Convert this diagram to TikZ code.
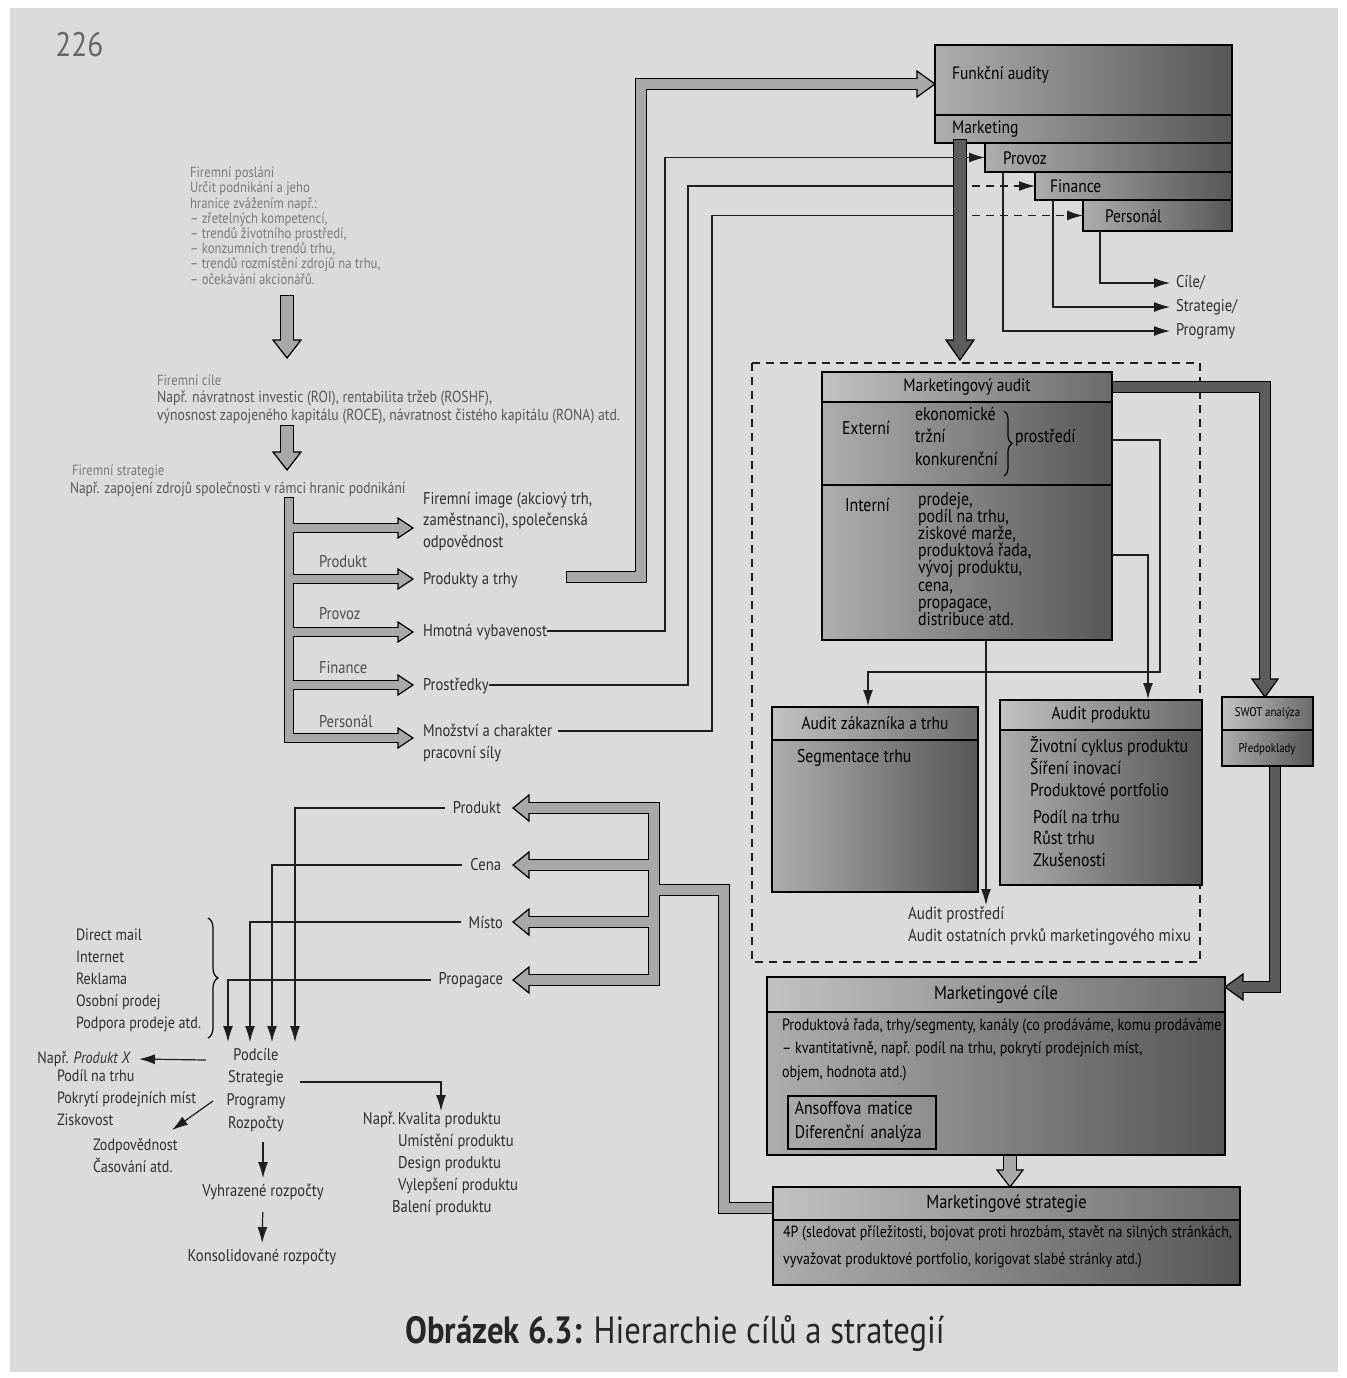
\documentclass[tikz,border=0pt]{standalone}
\usepackage{fontspec}
\setmainfont{PT Sans}[FakeStretch=0.86]
\usetikzlibrary{arrows.meta,decorations.pathreplacing,calc}
\newcommand\fsz[2]{\fontsize{#1}{#2}\selectfont}
\definecolor{pipeL}{gray}{0.66}
\definecolor{pipeD}{gray}{0.36}
% block arrow heads: tip x, tip y, fill, length, half width (px units)
\newcommand\hR[5]{\filldraw[fill=#3,draw=black,line width=0.6pt,line join=miter] (#1-#4,#2-#5) -- (#1,#2) -- (#1-#4,#2+#5) -- cycle;}
\newcommand\hL[5]{\filldraw[fill=#3,draw=black,line width=0.6pt,line join=miter] (#1+#4,#2-#5) -- (#1,#2) -- (#1+#4,#2+#5) -- cycle;}
\newcommand\hD[5]{\filldraw[fill=#3,draw=black,line width=0.6pt,line join=miter] (#1-#5,#2-#4) -- (#1,#2) -- (#1+#5,#2-#4) -- cycle;}
\begin{document}
\begin{tikzpicture}[x=0.5pt,y=-0.5pt,
  txt/.style={inner sep=0pt, outer sep=0pt, text=black!82, font=\fsz{8.5}{10.5}},
  faint/.style={inner sep=0pt, outer sep=0pt, text=black!52, font=\fsz{7.4}{7.6}},
  box/.style={draw=black, line width=0.7pt, left color=black!32, right color=black!66, inner sep=0pt, outer sep=0pt, anchor=north west},
  tbox/.style={box, left color=black!24, right color=black!58, text=black, font=\fsz{9}{10}},
  intext/.style={inner sep=0pt, outer sep=0pt, text=black, font=\fsz{9.2}{11}},
  thinln/.style={line width=0.6pt, draw=black!88},
  arr/.style={thinln, -{Latex[length=8pt,width=5pt]}},
  dashln/.style={thinln, dash pattern=on 4pt off 3pt},
  pipeO/.style={line width=#1, draw=black, line join=miter, line cap=rect},
  pipeI/.style={line width=#1, draw=pipeL, line join=miter, line cap=rect},
  pipeID/.style={line width=#1, draw=pipeD, line join=miter, line cap=rect}
]
\useasboundingbox (0,0) rectangle (1346,1378);
\fill[white] (0,0) rectangle (1346,1378);
\fill[black!14] (10,8) rectangle (1338,1372);

% ---------- page number ----------
\node[anchor=west, inner sep=0pt, text=black!60, font=\fsz{17}{20}] (pg) at (55,45) {226};

% ---------- top-left texts ----------
\node[faint, anchor=north west, align=left] (fp) at (190,167) {Firemní poslání\\Určit podnikání a jeho\\hranice zvážením např.:\\– zřetelných kompetencí,\\– trendů životního prostředí,\\– konzumních trendů trhu,\\– trendů rozmístění zdrojů na trhu,\\– očekávání akcionářů.};
\node[faint, anchor=west] (fc) at (157,380) {Firemní cíle};
\node[txt, anchor=north west, align=left, font=\fsz{8}{9}, text=black!66] (fc2) at (157,391) {Např. návratnost investic (ROI), rentabilita tržeb (ROSHF),\\výnosnost zapojeného kapitálu (ROCE), návratnost čistého kapitálu (RONA) atd.};
\node[faint, anchor=west] (fs) at (72,472) {Firemní strategie};
\node[txt, anchor=west, font=\fsz{7.8}{9}, text=black!66] (fs2) at (70,489) {Např. zapojení zdrojů společnosti v rámci hranic podnikání};

% ---------- down block arrows ----------
\draw[pipeO=7.4pt] (287,302) -- (287,340);
\hD{287}{358}{pipeL}{18}{14}
\draw[pipeI=6pt] (287,302) -- (287,340);
\draw[pipeO=7.4pt] (287,432) -- (287,452);
\hD{287}{470}{pipeL}{18}{14}
\draw[pipeI=6pt] (287,432) -- (287,452);

% ---------- left branching tree ----------
\draw[pipeO=5pt] (289,502) -- (289,738) -- (399,738);
\foreach \yy in {528,579,632,685} {\draw[pipeO=5pt] (289,\yy) -- (399,\yy);}
\foreach \yy in {528,579,632,685,738} {\hR{413}{\yy}{pipeL}{15}{10}}
\draw[pipeI=3.8pt] (289,502) -- (289,738) -- (399,738);
\foreach \yy in {528,579,632,685} {\draw[pipeI=3.8pt] (289,\yy) -- (399,\yy);}

\node[txt, anchor=west, text=black!70] (lprod) at (319,562) {Produkt};
\node[txt, anchor=west, text=black!70] (lprov) at (319,614) {Provoz};
\node[txt, anchor=west, text=black!70] (lfin) at (319,668) {Finance};
\node[txt, anchor=west, text=black!70] (lpers) at (319,721) {Personál};

\node[txt, anchor=north west, align=left, font=\fsz{8.5}{10.7}] (img) at (423,492) {Firemní image (akciový trh,\\zaměstnanci), společenská\\odpovědnost};
\node[txt, anchor=base west] (pt) at (423,584) {Produkty a trhy};
\node[txt, anchor=base west] (hv) at (423,636) {Hmotná vybavenost};
\node[txt, anchor=base west] (pr) at (423,690) {Prostředky};
\node[txt, anchor=base west] (mn1) at (423,736) {Množství a charakter};
\node[txt, anchor=base west] (mn2) at (423,758) {pracovní síly};

% ---------- coordinates ----------
\coordinate (c1) at (665,0);
\coordinate (c2) at (688,0);
\coordinate (c3) at (712,0);
\coordinate (cd) at (958,0);

% big pipe from Produkty a trhy to Funkční audity
\draw[pipeO=6.2pt] (572,577) -- (641,577) -- (641,84) -- (917,84);
\hR{935}{84}{pipeL}{18}{13}
\draw[pipeI=5pt] (572,577) -- (641,577) -- (641,84) -- (917,84);

% ---------- boxes top right ----------
\node[box, minimum width=148.5pt, minimum height=35pt] (fa) at (935,45) {};
\node[box, minimum width=148.5pt, minimum height=14pt] (mk) at (935,115) {};
\node[box, minimum width=123.5pt, minimum height=14.5pt] (pv) at (985,143) {};
\node[box, minimum width=98.5pt, minimum height=14pt] (fi) at (1035,172) {};
\node[box, minimum width=74.5pt, minimum height=15.5pt] (pe) at (1083,200) {};
\node[intext, anchor=west, font=\fsz{9}{10}] (fat) at (952,75) {Funkční audity};
\node[intext, anchor=west, font=\fsz{9}{10}] (mkt) at (952,129) {Marketing};
\node[intext, anchor=west, font=\fsz{9}{10}] (pvt) at (1003,158) {Provoz};
\node[intext, anchor=west, font=\fsz{9}{10}] (fit) at (1050,186) {Finance};
\node[intext, anchor=west, font=\fsz{9}{10}] (pet) at (1105,216) {Personál};

% thin lines into Provoz / Finance / Personál
\draw[arr] ([yshift=2.5pt]hv.base east) -| (pv.west -| c1) -- (pv.west);
\draw[thinln] ([yshift=2.5pt]pr.base east) -| (fi.west -| c2) -- (fi.west -| cd);
\draw[dashln, -{Latex[length=8pt,width=5pt]}] (fi.west -| cd) -- (fi.west);
\draw[thinln] ([xshift=3pt,yshift=2.5pt]mn1.base east) -| (pe.west -| c3) -- (pe.west -| cd);
\draw[dashln, -{Latex[length=8pt,width=5pt]}] (pe.west -| cd) -- (pe.west);

% dark vertical arrow from Marketing
\draw[pipeO=7.2pt] (960,146) -- (960,340);
\hD{960}{360}{pipeD}{20}{14}
\draw[pipeID=6pt] (960,146) -- (960,340);

% outputs Cíle / Strategie / Programy
\node[txt, anchor=west] (cile) at (1176,283) {Cíle/};
\node[txt, anchor=west] (strat) at (1176,307) {Strategie/};
\node[txt, anchor=west] (prog) at (1176,331) {Programy};
\draw[arr] ($(pe.south west)+(17,0)$) |- ([xshift=-3pt]cile.west);
\draw[arr] ($(fi.south west)+(18,0)$) |- ([xshift=-3pt]strat.west);
\draw[arr] ($(pv.south west)+(18,0)$) |- ([xshift=-3pt]prog.west);

% ---------- dashed frame ----------
\draw[dashln] (752,363) rectangle (1200,962);

% ---------- connectors of Marketingový audit ----------
\coordinate (ya) at (0,440);
\coordinate (yb) at (0,555);
\coordinate (xc) at (986,0);

% dark arrow to SWOT
\draw[pipeO=6.2pt] (1108,387) -- (1265,387) -- (1265,679);
\hD{1265}{697}{pipeD}{18}{13}
\draw[pipeID=5pt] (1108,387) -- (1265,387) -- (1265,679);
% dark arrow SWOT -> Marketingové cíle
\draw[pipeO=6.2pt] (1275,770) -- (1275,987) -- (1243,987);
\hL{1225}{987}{pipeD}{18}{13}
\draw[pipeID=5pt] (1275,770) -- (1275,987) -- (1243,987);

% ---------- Marketingový audit ----------
\node[box, minimum width=145pt, minimum height=134pt] (ma) at (822,372) {};
\node[tbox, minimum width=145pt, minimum height=15pt] (mat) at (822,372) {Marketingový audit};
\draw[line width=0.7pt] (822,485) -- (1112,485);
\node[intext, anchor=west] (ext) at (842,428) {Externí};
\node[intext, anchor=north west, align=left, font=\fsz{9.2}{11.2}] (extl) at (915,407) {ekonomické\\tržní\\konkurenční};
\draw[decorate, decoration={brace, amplitude=4pt}, line width=0.6pt] (1004,411) -- (1004,476);
\node[intext, anchor=west] (prst) at (1015,438) {prostředí};
\node[intext, anchor=west] (int) at (845,505) {Interní};
\node[intext, anchor=north west, align=left, font=\fsz{9.2}{8.6}] (intl) at (918,492) {prodeje,\\podíl na trhu,\\ziskové marže,\\produktová řada,\\vývoj produktu,\\cena,\\propagace,\\distribuce atd.};

\draw[arr] (ma.east |- ya) -- (1160,440) -- (1160,672) -| (868,706);
\draw[arr] (ma.east |- yb) -| (1148,699);
\draw[arr] (ma.south -| xc) -- (986,905);

% ---------- Audit boxes ----------
\node[box, minimum width=103pt, minimum height=92.5pt] (az) at (772,707) {};
\node[tbox, minimum width=103pt, minimum height=16.5pt] (azt) at (772,707) {Audit zákazníka a trhu};
\node[intext, anchor=west] (seg) at (797,758) {Segmentace trhu};

\node[box, minimum width=101pt, minimum height=92.5pt] (ap) at (1000,700) {};
\node[tbox, minimum width=101pt, minimum height=15pt] (apt) at (1000,700) {Audit produktu};
\node[intext, anchor=north west, align=left, font=\fsz{9.2}{11}] (apl1) at (1030,736) {Životní cyklus produktu\\Šíření inovací\\Produktové portfolio};
\node[intext, anchor=north west, align=left, font=\fsz{9.2}{10.7}] (apl2) at (1033,810) {Podíl na trhu\\Růst trhu\\Zkušenosti};

\node[box, minimum width=45.5pt, minimum height=34.5pt] (sw) at (1222,697) {};
\node[tbox, minimum width=45.5pt, minimum height=16.5pt, font=\fsz{6.3}{7}] (swt) at (1222,697) {SWOT analýza};
\node[intext, font=\fsz{6.3}{7}] (pred) at (1267,749) {Předpoklady};

\node[txt, anchor=north west, align=left, font=\fsz{8.8}{11}] (aud) at (908,907) {Audit prostředí\\Audit ostatních prvků marketingového mixu};

% ---------- Marketingové cíle / strategie ----------
\draw[pipeO=7.2pt] (1010,1158) -- (1010,1170);
\hD{1010}{1187}{pipeL}{17}{13}
\draw[pipeI=6pt] (1010,1158) -- (1010,1170);

% pipe strategie -> 4P
\draw[pipeO=6.2pt] (777,1208) -- (724,1208) -- (724,890) -- (654,890);
\draw[pipeO=6.2pt] (529,808) -- (654,808) -- (654,980) -- (529,980);
\draw[pipeO=6.2pt] (529,865) -- (654,865);
\draw[pipeO=6.2pt] (529,922) -- (654,922);
\foreach \yy in {808,865,922,980} {\hL{513}{\yy}{pipeL}{16}{13}}
\draw[pipeI=5pt] (777,1208) -- (724,1208) -- (724,890) -- (654,890);
\draw[pipeI=5pt] (529,808) -- (654,808) -- (654,980) -- (529,980);
\draw[pipeI=5pt] (529,865) -- (654,865);
\draw[pipeI=5pt] (529,922) -- (654,922);

\node[box, minimum width=229pt, minimum height=89pt] (mc) at (767,977) {};
\node[tbox, minimum width=229pt, minimum height=17.5pt, font=\fsz{9.5}{10}] (mct) at (767,977) {Marketingové cíle};
\node[intext, anchor=north west, align=left, font=\fsz{8.2}{11.8}] (mcb) at (782,1018) {Produktová řada, trhy/segmenty, kanály (co prodáváme, komu prodáváme\\– kvantitativně, např. podíl na trhu, pokrytí prodejních míst,\\objem, hodnota atd.)};
\node[draw=black, line width=0.8pt, anchor=north west, minimum width=74pt, minimum height=26.5pt, text width=67pt, inner xsep=3.5pt, inner ysep=0pt, align=left, font=\fsz{9.2}{12}] (ib) at (787,1095) {Ansoffova matice\\Diferenční analýza};

\node[box, minimum width=233.5pt, minimum height=49pt] (ms) at (773,1187) {};
\node[tbox, minimum width=233.5pt, minimum height=16.5pt, font=\fsz{9.5}{10}] (mst) at (773,1187) {Marketingové strategie};
\node[intext, anchor=north west, align=left, font=\fsz{8.1}{13.5}] (msb) at (783,1226) {4P (sledovat příležitosti, bojovat proti hrozbám, stavět na silných stránkách,\\vyvažovat produktové portfolio, korigovat slabé stránky atd.)};

% ---------- 4P labels ----------
\node[txt, anchor=east] (lp) at (501,808) {Produkt};
\node[txt, anchor=east] (lc) at (501,865) {Cena};
\node[txt, anchor=east] (lm) at (503,922) {Místo};
\node[txt, anchor=east] (lg) at (503,980) {Propagace};

\draw[arr] ([xshift=-4pt]lp.west) -| (295,1042);
\draw[arr] ([xshift=-4pt]lc.west) -| (272,1042);
\draw[arr] ([xshift=-4pt]lm.west) -| (250,1042);
\draw[arr] ([xshift=-4pt]lg.west) -| (228,1042);

% ---------- lower left ----------
\node[txt, anchor=north west, align=left, font=\fsz{8.2}{11}] (dm) at (76,929) {Direct mail\\Internet\\Reklama\\Osobní prodej\\Podpora prodeje atd.};
\draw[decorate, decoration={brace, amplitude=5pt}, line width=0.6pt] (208,918) -- (208,1038);

\node[txt, align=center, font=\fsz{8.4}{11.4}] (pc) at (256,1090) {Podcíle\\Strategie\\Programy\\Rozpočty};
\node[txt, anchor=east, font=\fsz{8.2}{10}] (px) at (131,1059) {Např. \textit{Produkt X}};
\node[txt, anchor=north west, align=left, font=\fsz{8.2}{11}] (pl) at (57,1070) {Podíl na trhu\\Pokrytí prodejních míst\\Ziskovost};
\node[txt, anchor=north west, align=left, font=\fsz{8.2}{11}] (zo) at (93,1138) {Zodpovědnost\\Časování atd.};
\coordinate (pcw) at (206,1060);
\coordinate (pcd) at (213,1101);
\coordinate (zod) at (172,1130);
\draw[arr] (pcw) -- ([xshift=4pt]px.east);
\draw[arr] (pcd) -- (zod);

\node[txt, anchor=north west, align=left, font=\fsz{8.5}{11}] (kv) at (398,1112) {\llap{Např.\,}Kvalita produktu\\Umístění produktu\\Design produktu\\Vylepšení produktu\\\hspace*{-3pt}Balení produktu};
\coordinate (pce) at (300,1082);
\draw[arr] (pce) -| (441,1111);

\node[txt] (vr) at (263,1192) {Vyhrazené rozpočty};
\node[txt] (kr) at (262,1257) {Konsolidované rozpočty};
\draw[arr, shorten <=5pt, shorten >=3pt] (pc.south -| vr.north) -- (vr.north);
\draw[arr, shorten <=6pt, shorten >=3pt] (vr.south) -- (kr.north);

% ---------- caption ----------
\node[inner sep=0pt, text=black!85, font=\fsz{19}{22}] (cap) at (675,1334) {\textbf{Obrázek 6.3:} Hierarchie cílů a strategií};
\end{tikzpicture}
\end{document}
